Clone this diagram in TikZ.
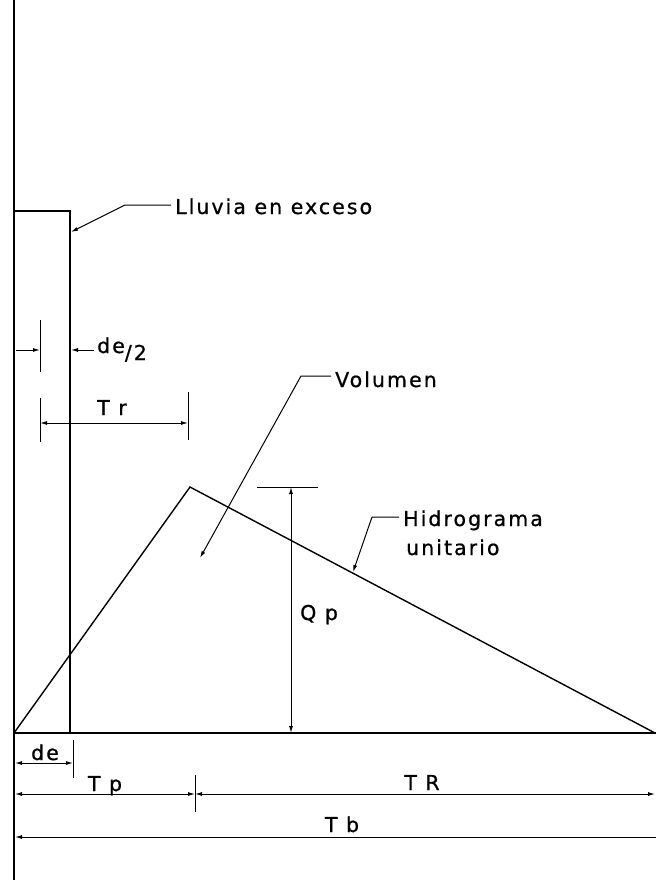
\documentclass[tikz,border=0pt]{standalone}
\usepackage{fontspec}
\setmainfont[LetterSpace=10,FakeBold=0.8]{DejaVu Sans}
\usetikzlibrary{arrows.meta,calc}
\begin{document}
\begin{tikzpicture}[x=1pt,y=-1pt,
  axis/.style={line width=1.8pt},
  curve/.style={line width=1.4pt},
  dim/.style={line width=1pt},
  tipE/.style={-{Latex[length=7pt,width=4pt]}},
  tipS/.style={{Latex[length=7pt,width=4pt]}-},
  tipB/.style={{Latex[length=7pt,width=4pt]}-{Latex[length=7pt,width=4pt]}},
  lbl/.style={font=\fontsize{20.5}{22}\selectfont, inner sep=0pt}
]
\useasboundingbox (0,0) rectangle (656,880);
\fill[white] (0,0) rectangle (656,880);
% axes
\coordinate (axTop) at (14,0);
\coordinate (axBot) at (14,880);
\coordinate (O) at (14,733);
\coordinate (axEnd) at (656,733);
\draw[axis] (axTop) -- (axBot);
\draw[curve] (O) -- (axEnd);
% rain block
\coordinate (rTL) at (14,211);
\coordinate (rTR) at (70,211);
\coordinate (rBR) at (70,733);
\draw[curve] (rTL) -- (rTR) -- (rBR);
% hydrograph
\coordinate (peak) at (190,487);
\coordinate (hEnd) at (655,733);
\draw[curve] (O) -- (peak) -- (hEnd);

% labels with leaders
\node[lbl, anchor=base west] (lluvia) at (175,214) {Lluvia en exceso};
\coordinate (lk) at (125,205);
\coordinate (lt) at (71,232);
\draw[dim,tipE] ($(lluvia.base west)+(-4,-9)$) -- (lk) -- (lt);

\node[lbl, anchor=base west] (vol) at (335,387) {Volumen};
\coordinate (vk) at (301,376);
\coordinate (vt) at (200,558);
\draw[dim,tipE] ($(vol.base west)+(-4,-11)$) -- (vk) -- (vt);

\node[lbl, anchor=base west] (hid) at (403,526) {Hidrograma};
\node[lbl, anchor=base west] (uni) at (406,555) {unitario};
\coordinate (hk) at (372,517);
\coordinate (ht) at (353,572);
\draw[dim,tipE] ($(hid.base west)+(-4,-9)$) -- (hk) -- (ht);

% de/2
\coordinate (t1a) at (40,320);
\coordinate (t1b) at (40,372);
\draw[dim] (t1a) -- (t1b);
\coordinate (d2a) at (16,350);
\coordinate (d2b) at (40,350);
\coordinate (d2c) at (94,350);
\coordinate (d2d) at (71,350);
\draw[dim,tipE] (d2a) -- (d2b);
\draw[dim,tipE] (d2c) -- (d2d);
\node[lbl, anchor=base west] (de2) at (97,353) {de\raisebox{-7pt}{/2}};

% Tr
\coordinate (t2a) at (40,398);
\coordinate (t2b) at (40,442);
\coordinate (t3a) at (188,392);
\coordinate (t3b) at (188,440);
\draw[dim] (t2a) -- (t2b);
\draw[dim] (t3a) -- (t3b);
\coordinate (tra) at (40,423);
\coordinate (trb) at (188,423);
\draw[dim,tipB] (tra) -- (trb);
\node[lbl, anchor=base] (tr) at (112,415) {T r};

% Qp
\coordinate (qa) at (257,487);
\coordinate (qb) at (318,487);
\draw[dim] (qa) -- (qb);
\coordinate (qtop) at (291,487);
\coordinate (qbot) at (291,733);
\draw[dim,tipB] (qbot) -- (qtop);
\node[lbl, anchor=base west] (qp) at (300,620) {Q p};

% bottom dimensions
\coordinate (t4a) at (73,740);
\coordinate (t4b) at (73,778);
\draw[dim] (t4a) -- (t4b);
\coordinate (dea) at (15,763);
\coordinate (deb) at (73,763);
\draw[dim,tipB] (dea) -- (deb);
\node[lbl, anchor=base] (de) at (45,760) {de};

\coordinate (t5a) at (195,775);
\coordinate (t5b) at (195,812);
\draw[dim] (t5a) -- (t5b);
\coordinate (tpa) at (15,794);
\coordinate (tpb) at (195,794);
\coordinate (tpc) at (655,794);
\draw[dim,tipB] (tpa) -- (tpb);
\draw[dim,tipB] (tpb) -- (tpc);
\node[lbl, anchor=base] (tp) at (105,791) {T p};
\node[lbl, anchor=base] (tR) at (422,790) {T R};

\coordinate (tba) at (15,837);
\coordinate (tbb) at (656,837);
\draw[dim,tipS] (tba) -- (tbb);
\node[lbl, anchor=base] (tb) at (342,832) {T b};
\end{tikzpicture}
\end{document}
